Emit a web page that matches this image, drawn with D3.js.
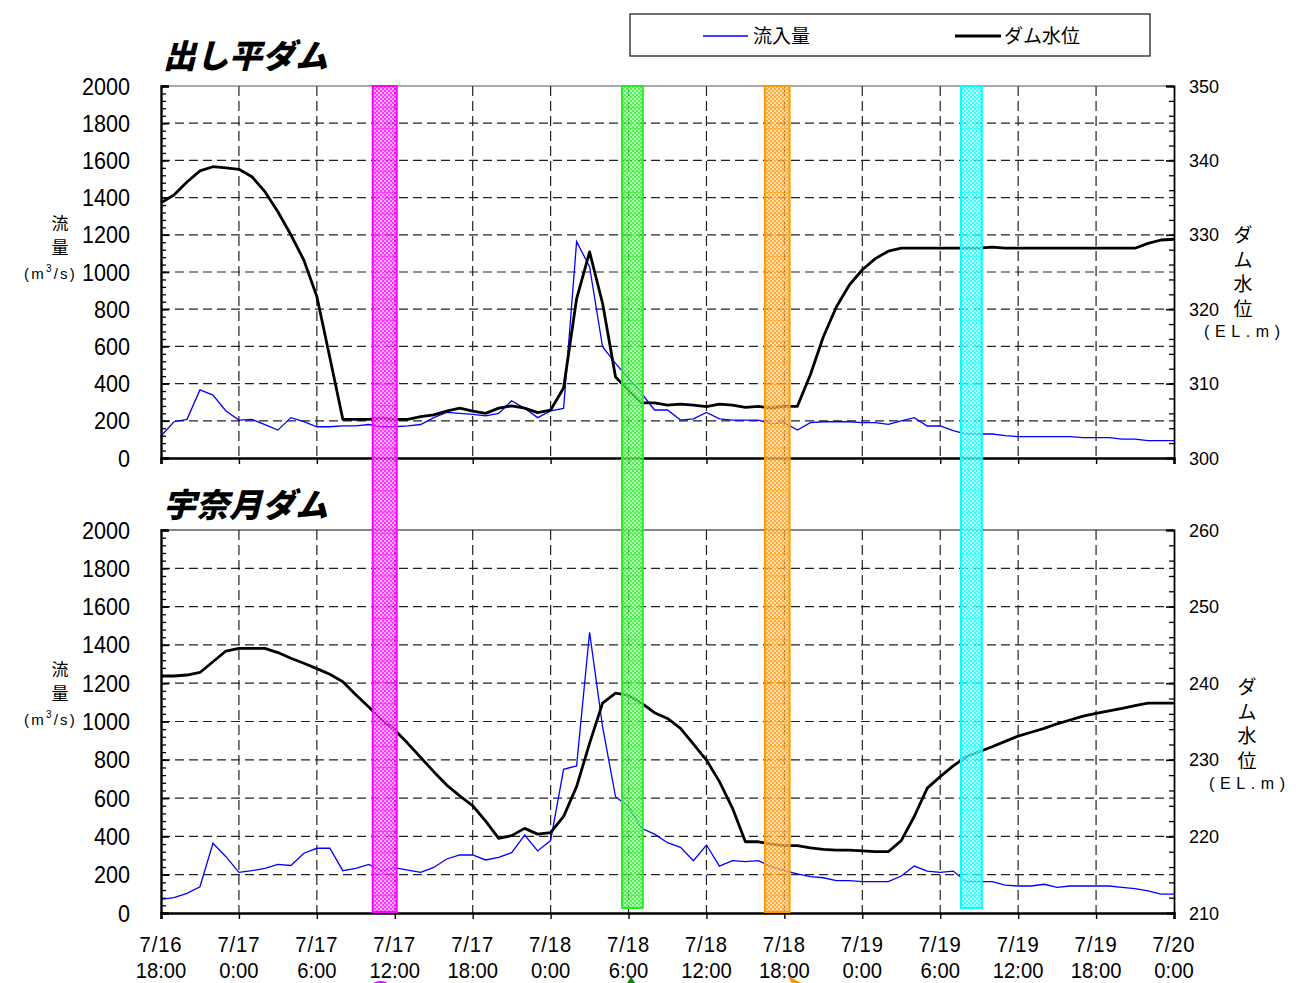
<!DOCTYPE html>
<html>
<head>
<meta charset="utf-8">
<script src="https://cdn.jsdelivr.net/npm/d3@7"></script>
<style>
body { margin: 0; background: #fff; }
svg { display: block; }
text { font-family: "Liberation Sans", Arial, sans-serif; fill: #000; }
.jp { font-family: "Noto Sans CJK JP", sans-serif; }
</style>
</head>
<body>
<div id="chart"></div>
<script>
// hourly values, index = hours after 7/16 18:00
var dashidairaInflow = [118, 195, 208, 366, 338, 253, 204, 208, 179, 150, 217, 195, 168, 168, 173, 173, 180, 168, 168, 173,
    180, 217, 245, 240, 235, 226, 240, 308, 267, 217, 253, 267, 1163, 1029, 598, 509, 428, 348, 258, 258,
    204, 210, 245, 210, 204, 204, 204, 183, 190, 150, 190, 195, 195, 195, 190, 190, 181, 199, 217, 172,
    172, 147, 129, 129, 129, 120, 115, 115, 115, 115, 115, 110, 110, 110, 102, 102, 93, 93, 93];
var dashidairaLevel = [334.3, 335.35, 337.1, 338.6, 339.15, 339.0, 338.8, 337.8, 335.8, 333.1, 330.0, 326.6, 321.7, 313.5, 305.2, 305.2, 305.2, 305.4, 305.2, 305.2,
    305.55, 305.8, 306.3, 306.7, 306.3, 306.0, 306.7, 307.0, 306.7, 306.1, 306.45, 309.4, 321.4, 327.7, 320.8, 310.9, 309.1, 307.4, 307.4, 307.1,
    307.25, 307.1, 306.9, 307.25, 307.1, 306.8, 306.95, 306.7, 306.95, 306.95, 311.2, 316.3, 320.3, 323.25, 325.3, 326.8, 327.8, 328.2, 328.2, 328.2,
    328.2, 328.2, 328.2, 328.2, 328.35, 328.2, 328.2, 328.2, 328.2, 328.2, 328.2, 328.2, 328.2, 328.2, 328.2, 328.2, 328.85, 329.3, 329.4];

var unazukiInflow = [71, 80, 103, 137, 364, 294, 212, 221, 233, 254, 248, 312, 338, 338, 221, 233, 254, 219, 237, 224,
    212, 238, 282, 303, 303, 277, 291, 315, 407, 324, 378, 750, 768, 1466, 973, 607, 555, 442, 412, 367,
    343, 273, 355, 245, 273, 268, 273, 242, 221, 204, 190, 184, 169, 169, 164, 164, 164, 193, 245, 219,
    212, 219, 164, 164, 164, 146, 141, 141, 150, 134, 141, 141, 141, 141, 134, 127, 115, 99, 99];
var unazukiLevel = [240.94, 240.94, 241.07, 241.4, 242.8, 244.2, 244.55, 244.55, 244.55, 244.0, 243.25, 242.6, 241.9, 241.16, 240.2, 238.5, 236.9, 235.2, 233.9, 232.15,
    230.3, 228.45, 226.7, 225.3, 224.0, 222.0, 219.75, 220.1, 221.05, 220.3, 220.5, 222.6, 226.5, 232.15, 237.4, 238.7, 238.4, 237.4, 236.15, 235.4,
    234.1, 232.05, 229.97, 227.15, 223.7, 219.3, 219.3, 219.0, 218.8, 218.8, 218.5, 218.3, 218.2, 218.2, 218.1, 218.0, 218.0, 219.45, 222.6, 226.3,
    227.8, 229.2, 230.4, 231.06, 231.7, 232.4, 233.1, 233.6, 234.1, 234.7, 235.2, 235.7, 236.07, 236.4, 236.7, 237.06, 237.4, 237.4, 237.4];

var tickHours = [0, 6, 12, 18, 24, 30, 36, 42, 48, 54, 60, 66, 72, 78];
var dateLabels = ["7/16", "7/17", "7/17", "7/17", "7/17", "7/18", "7/18", "7/18", "7/18", "7/19", "7/19", "7/19", "7/19", "7/20"];
var timeLabels = ["18:00", "0:00", "6:00", "12:00", "18:00", "0:00", "6:00", "12:00", "18:00", "0:00", "6:00", "12:00", "18:00", "0:00"];
var flowTicks = [0, 200, 400, 600, 800, 1000, 1200, 1400, 1600, 1800, 2000];
var dashidairaLevelTicks = [300, 310, 320, 330, 340, 350];
var unazukiLevelTicks = [210, 220, 230, 240, 250, 260];

// highlighted periods (hours)
var bandStart = [16.3, 35.5, 46.5, 61.6];
var bandEnd = [18.15, 37.1, 48.4, 63.2];
var bandColor = ["#ff00ff", "#22ee22", "#ff9900", "#00ffff"];
var bandLight = ["#ff9cff", "#a0ffa0", "#ffd49a", "#a8ffff"];

var W = 1303, H = 983;
var svg = d3.select("#chart").append("svg").attr("width", W).attr("height", H);
var defs = svg.append("defs");

var x = d3.scaleLinear().domain([0, 78]).range([161, 1174]);

var panels = [
    { top: 86, bottom: 458, levelDomain: [300, 350], levelTicks: dashidairaLevelTicks, inflow: dashidairaInflow, level: dashidairaLevel,
      title: "出し平ダム", titleY: 68, leftTitleY: 224, rightTitleX: 1243, rightTitleY: 235, unitX: 1204, topStroke: "#555" },
    { top: 530, bottom: 913, levelDomain: [210, 260], levelTicks: unazukiLevelTicks, inflow: unazukiInflow, level: unazukiLevel,
      title: "宇奈月ダム", titleY: 517, leftTitleY: 670, rightTitleX: 1247, rightTitleY: 687, unitX: 1209, topStroke: "#111" }
];

panels.forEach(function (p, pi) {
    var yL = d3.scaleLinear().domain([0, 2000]).range([p.bottom, p.top]);
    var yR = d3.scaleLinear().domain(p.levelDomain).range([p.bottom, p.top]);
    var g = svg.append("g");

    // grid
    g.selectAll(".hgrid").data(flowTicks.slice(1, -1)).enter().append("line")
        .attr("x1", x(0)).attr("x2", x(78))
        .attr("y1", function (d) { return yL(d); }).attr("y2", function (d) { return yL(d); })
        .attr("stroke", "#222").attr("stroke-width", 1.2).attr("stroke-dasharray", "9,5");
    g.selectAll(".vgrid").data(tickHours.slice(1, -1)).enter().append("line")
        .attr("x1", function (d) { return x(d); }).attr("x2", function (d) { return x(d); })
        .attr("y1", p.top).attr("y2", p.bottom)
        .attr("stroke", "#222").attr("stroke-width", 1.2).attr("stroke-dasharray", "10,5");

    // series
    g.append("path").datum(p.inflow)
        .attr("d", d3.line().x(function (d, i) { return x(i); }).y(function (d) { return yL(d); }))
        .attr("fill", "none").attr("stroke", "#0000ff").attr("stroke-width", 1.3);
    g.append("path").datum(p.level)
        .attr("d", d3.line().x(function (d, i) { return x(i); }).y(function (d) { return yR(d); }))
        .attr("fill", "none").attr("stroke", "#000").attr("stroke-width", 2.8).attr("stroke-linejoin", "round");

    // frame
    g.append("line").attr("x1", x(0)).attr("x2", x(78)).attr("y1", p.top).attr("y2", p.top)
        .attr("stroke", p.topStroke).attr("stroke-width", 1.2);

    // left axis (ticks inside)
    g.append("g").attr("transform", "translate(" + x(0) + ",0)")
        .call(d3.axisLeft(yL).tickValues(d3.range(0, 2001, 40)).tickSize(-5).tickFormat(""))
        .call(function (a) { a.select(".domain").remove(); a.selectAll("line").attr("stroke", "#000").attr("stroke-width", 1.3); });
    g.append("g").attr("transform", "translate(" + x(0) + ",0)")
        .call(d3.axisLeft(yL).tickValues(flowTicks).tickSize(-8).tickFormat(""))
        .call(function (a) { a.select(".domain").attr("stroke", "#000").attr("stroke-width", 2.4); a.selectAll("line").attr("stroke", "#000").attr("stroke-width", 1.6); });

    // right axis (ticks inside)
    var lv = p.levelDomain;
    g.append("g").attr("transform", "translate(" + x(78) + ",0)")
        .call(d3.axisRight(yR).tickValues(d3.range(lv[0], lv[1] + 0.1, 2)).tickSize(-5).tickFormat(""))
        .call(function (a) { a.select(".domain").remove(); a.selectAll("line").attr("stroke", "#000").attr("stroke-width", 1.3); });
    g.append("g").attr("transform", "translate(" + x(78) + ",0)")
        .call(d3.axisRight(yR).tickValues(p.levelTicks).tickSize(-8).tickFormat(""))
        .call(function (a) { a.select(".domain").attr("stroke", "#000").attr("stroke-width", 1.8); a.selectAll("line").attr("stroke", "#000").attr("stroke-width", 1.6); });

    // bottom axis (ticks outside)
    g.append("g").attr("transform", "translate(0," + p.bottom + ")")
        .call(d3.axisBottom(x).tickValues(tickHours).tickSize(6).tickFormat(""))
        .call(function (a) { a.select(".domain").attr("stroke", "#000").attr("stroke-width", 2.6); a.selectAll("line").attr("stroke", "#000").attr("stroke-width", 1.4); });

    // left tick labels
    g.selectAll(".yl").data(flowTicks).enter().append("text")
        .attr("transform", function (d) { return "translate(130," + (yL(d) + 8.5) + ") scale(0.9,1)"; })
        .attr("text-anchor", "end").attr("font-size", 24).text(function (d) { return d; });

    // right tick labels
    g.selectAll(".yr").data(p.levelTicks).enter().append("text")
        .attr("x", 1189).attr("y", function (d) { return yR(d) + 6.5; })
        .attr("font-size", 18).text(function (d) { return d; });

    // title
    svg.append("text").attr("class", "jp").attr("x", 163).attr("y", p.titleY)
        .attr("font-size", 33).attr("font-weight", 900).attr("font-style", "italic")
        .text(p.title);

    // left axis title
    var lt = svg.append("g");
    lt.append("text").attr("class", "jp").attr("x", 60).attr("y", p.leftTitleY + 6).attr("text-anchor", "middle").attr("font-size", 17).text("流");
    lt.append("text").attr("class", "jp").attr("x", 60).attr("y", p.leftTitleY + 30).attr("text-anchor", "middle").attr("font-size", 17).text("量");
    var u = lt.append("text").attr("x", 24).attr("y", p.leftTitleY + 55).attr("font-size", 15).attr("letter-spacing", 2.2);
    u.append("tspan").text("(m");
    u.append("tspan").attr("font-size", 10).attr("dy", -7).text("3");
    u.append("tspan").attr("dy", 7).text("/s)");

    // right axis title
    var rt = svg.append("g");
    ["ダ", "ム", "水", "位"].forEach(function (c, i) {
        rt.append("text").attr("class", "jp").attr("x", p.rightTitleX).attr("y", p.rightTitleY + 7 + i * 24.5)
            .attr("text-anchor", "middle").attr("font-size", 19).text(c);
    });
    rt.append("text").attr("x", p.unitX).attr("y", p.rightTitleY + 102)
        .attr("font-size", 16).attr("letter-spacing", 5.6).text("(EL.m)");
});

// bottom date / time labels
var xl = svg.append("g");
xl.selectAll(".d").data(tickHours).enter().append("text")
    .attr("transform", function (d) { return "translate(" + x(d) + ",952) scale(0.92,1)"; })
    .attr("text-anchor", "middle").attr("font-size", 22).attr("letter-spacing", 1)
    .text(function (d, i) { return dateLabels[i]; });
xl.selectAll(".t").data(tickHours).enter().append("text")
    .attr("transform", function (d) { return "translate(" + x(d) + ",978) scale(0.92,1)"; })
    .attr("text-anchor", "middle").attr("font-size", 22)
    .text(function (d, i) { return timeLabels[i]; });

// highlight bands (on top of lines, semi transparent)
var bandTop = 86, bandBottoms = [912, 908, 912, 908];
bandStart.forEach(function (s, i) {
    var pat = defs.append("pattern").attr("id", "pat" + i).attr("patternUnits", "userSpaceOnUse")
        .attr("width", 4).attr("height", 4);
    pat.append("rect").attr("width", 4).attr("height", 4).attr("fill", bandColor[i]);
    pat.append("rect").attr("width", 2).attr("height", 2).attr("fill", bandLight[i]);
    pat.append("rect").attr("x", 2).attr("y", 2).attr("width", 2).attr("height", 2).attr("fill", bandLight[i]);

    var bg = svg.append("g").attr("opacity", 0.78);
    var x0 = x(s), x1 = x(bandEnd[i]);
    bg.append("rect").attr("x", x0).attr("y", bandTop).attr("width", x1 - x0).attr("height", bandBottoms[i] - bandTop)
        .attr("fill", "url(#pat" + i + ")");
    bg.selectAll(".bl").data(d3.range(bandTop + 21.3, bandBottoms[i], 21.3)).enter().append("line")
        .attr("x1", x0).attr("x2", x1).attr("y1", function (d) { return d; }).attr("y2", function (d) { return d; })
        .attr("stroke", bandColor[i]).attr("stroke-width", 1);
    svg.append("rect").attr("x", x0).attr("y", bandTop).attr("width", x1 - x0).attr("height", bandBottoms[i] - bandTop)
        .attr("fill", "none").attr("stroke", bandColor[i]).attr("stroke-width", 2);
});

// small markers at the bottom edge
svg.append("ellipse").attr("cx", x(16.9)).attr("cy", 985).attr("rx", 8).attr("ry", 4).attr("fill", "#ff00ff");
svg.append("path").attr("d", "M" + (x(36.2) - 4) + ",983 L" + x(36.2) + ",977 L" + (x(36.2) + 4) + ",983 Z").attr("fill", "#008800");
svg.append("path").attr("d", "M" + (x(48.4) - 2) + ",976 L" + (x(48.4) + 12) + ",983 L" + (x(48.4) + 2) + ",983 Z").attr("fill", "#ff9900");

// legend
var lg = svg.append("g");
lg.append("rect").attr("x", 630).attr("y", 14).attr("width", 520).attr("height", 42)
    .attr("fill", "#fff").attr("stroke", "#222").attr("stroke-width", 1.3);
lg.append("line").attr("x1", 703).attr("x2", 748).attr("y1", 36).attr("y2", 36).attr("stroke", "#0000ff").attr("stroke-width", 1.3);
lg.append("text").attr("class", "jp").attr("x", 753).attr("y", 43).attr("font-size", 19).text("流入量");
lg.append("line").attr("x1", 955).attr("x2", 1001).attr("y1", 36).attr("y2", 36).attr("stroke", "#000").attr("stroke-width", 2.8);
lg.append("text").attr("class", "jp").attr("x", 1004).attr("y", 43).attr("font-size", 19).text("ダム水位");
</script>
</body>
</html>
